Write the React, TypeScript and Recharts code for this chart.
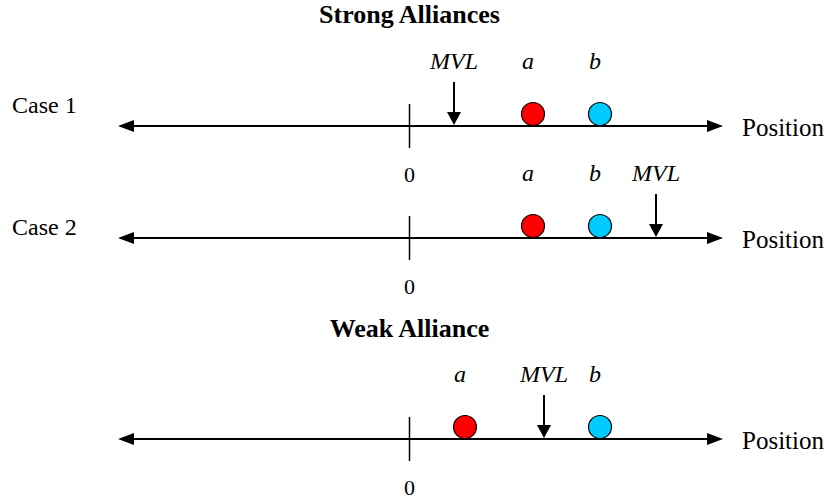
import React from 'react';
import { ScatterChart, Scatter, XAxis, YAxis, ReferenceLine } from 'recharts';

// positions along the "Position" axis (0 = the tick mark)
const caseLabels = ['Case 1', 'Case 2', ''];
const titleLabels = ['Strong Alliances', 'Weak Alliance'];
const aPos = [12.35, 12.35, 5.55];
const bPos = [19.05, 19.05, 19.05];
const mvlPos = [4.45, 24.65, 13.45];
const axisMin = -29.15;
const axisMax = 31.35;
const zeroTick = 0;

// layout (vertical levels of the diagram, not data)
const ROW_Y = [126, 238, 439];
const TITLE_Y = [23, 337];
const CASE_Y = [113, 235];
const W = 829;
const H = 501;
const SERIF = "'Liberation Serif', 'Times New Roman', serif";

const rows = ROW_Y.map((y, i) => ({ y, i }));
const aData = aPos.map((x, i) => ({ x, y: ROW_Y[i] }));
const bData = bPos.map((x, i) => ({ x, y: ROW_Y[i] }));
const mvlData = mvlPos.map((x, i) => ({ x, y: ROW_Y[i] }));
const zeroData = ROW_Y.map((y) => ({ x: zeroTick, y }));
const titleData = titleLabels.map((t, i) => ({ x: zeroTick, y: TITLE_Y[i], t }));
const caseData = caseLabels
  .map((t, i) => ({ x: -39.75, y: CASE_Y[i], t }))
  .filter((d) => d.t);

const ball = (color: string, label: string) => (props: any) => {
  const { cx, cy } = props;
  return (
    <g>
      <ellipse cx={cx} cy={cy - 12} rx={11.5} ry={11.5} fill={color} stroke="#000" strokeWidth={1.2} />
      <text x={cx - 5} y={cy - 57} textAnchor="middle" fontFamily={SERIF} fontStyle="italic" fontSize={24} fill="#000">
        {label}
      </text>
    </g>
  );
};

const MvlArrow = (props: any) => {
  const { cx, cy } = props;
  return (
    <g>
      <line x1={cx} y1={cy - 44} x2={cx} y2={cy - 12} stroke="#000" strokeWidth={2} />
      <polygon points={`${cx - 7},${cy - 14} ${cx + 7},${cy - 14} ${cx},${cy - 1}`} fill="#000" />
      <text x={cx} y={cy - 57} textAnchor="middle" fontFamily={SERIF} fontStyle="italic" fontSize={24} fill="#000">
        MVL
      </text>
    </g>
  );
};

const ZeroTick = (props: any) => {
  const { cx, cy } = props;
  return (
    <g>
      <line x1={cx} y1={cy - 22} x2={cx} y2={cy + 22} stroke="#000" strokeWidth={1.5} />
      <text x={cx} y={cy + 56} textAnchor="middle" fontFamily={SERIF} fontSize={22} fill="#000">
        0
      </text>
    </g>
  );
};

const Title = (props: any) => {
  const { cx, cy, payload } = props;
  return (
    <text x={cx} y={cy} textAnchor="middle" fontFamily={SERIF} fontWeight="bold" fontSize={26} fill="#000">
      {payload.t}
    </text>
  );
};

const CaseText = (props: any) => {
  const { cx, cy, payload } = props;
  return (
    <text x={cx} y={cy} textAnchor="start" fontFamily={SERIF} fontSize={24} fill="#000">
      {payload.t}
    </text>
  );
};

const NumberLine = (props: any) => {
  const { x1, y1, x2 } = props;
  const y = y1;
  return (
    <g>
      <line x1={x1 + 12} y1={y} x2={x2 - 12} y2={y} stroke="#000" strokeWidth={2} />
      <polygon points={`${x1},${y} ${x1 + 16},${y - 6} ${x1 + 16},${y + 6}`} fill="#000" />
      <polygon points={`${x2},${y} ${x2 - 16},${y - 6} ${x2 - 16},${y + 6}`} fill="#000" />
      <text x={x2 + 19} y={y + 10} textAnchor="start" fontFamily={SERIF} fontSize={25} fill="#000">
        Position
      </text>
    </g>
  );
};

export default function App() {
  return (
    <div style={{ position: 'absolute', left: 0, top: 0, background: '#fff' }}>
      <ScatterChart width={W} height={H} margin={{ top: 0, right: 0, bottom: 0, left: 0 }}>
        <XAxis type="number" dataKey="x" domain={[-40.95, 41.95]} allowDataOverflow hide />
        <YAxis type="number" dataKey="y" domain={[0, H]} reversed allowDataOverflow hide />
        {rows.map((r) => (
          <ReferenceLine
            key={`row-${r.i}`}
            segment={[
              { x: axisMin, y: r.y },
              { x: axisMax, y: r.y },
            ]}
            ifOverflow="visible"
            shape={NumberLine}
          />
        ))}
        <Scatter data={zeroData} shape={ZeroTick} isAnimationActive={false} />
        <Scatter data={mvlData} shape={MvlArrow} isAnimationActive={false} />
        <Scatter data={aData} shape={ball('#ff0000', 'a')} isAnimationActive={false} />
        <Scatter data={bData} shape={ball('#00ccff', 'b')} isAnimationActive={false} />
        <Scatter data={titleData} shape={Title} isAnimationActive={false} />
        <Scatter data={caseData} shape={CaseText} isAnimationActive={false} />
      </ScatterChart>
    </div>
  );
}
